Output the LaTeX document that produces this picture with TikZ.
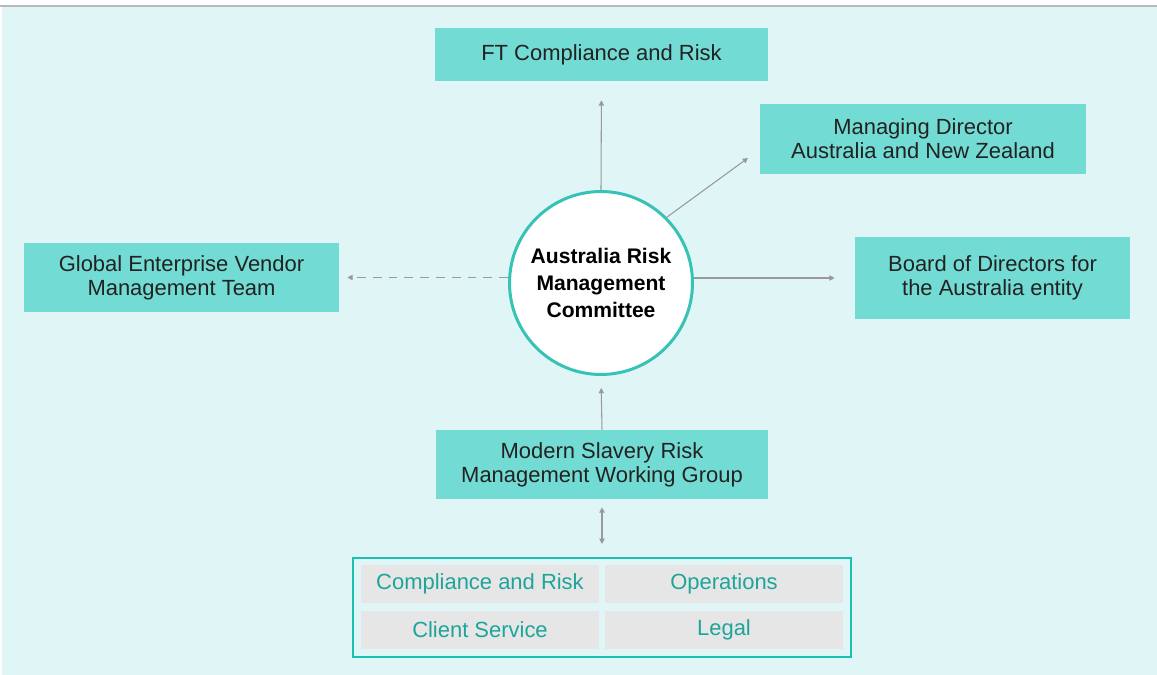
\documentclass[tikz,border=0pt]{standalone}
\usepackage{fontspec}
\setmainfont{Liberation Sans}
\usetikzlibrary{arrows.meta}
\definecolor{bgcyan}{HTML}{E0F5F6}
\definecolor{boxteal}{HTML}{72DCD4}
\definecolor{ringteal}{HTML}{36C2B4}
\definecolor{frameteal}{HTML}{1CC0B2}
\definecolor{cellgray}{HTML}{E6E6E6}
\definecolor{cellteal}{HTML}{1DA59B}
\definecolor{linkgray}{HTML}{999999}
\definecolor{txtdark}{HTML}{222222}
\begin{document}
\begin{tikzpicture}[
  x=0.02cm, y=-0.02cm,
  box/.style={fill=boxteal, text=txtdark, align=center, inner sep=0pt,
    font=\fontsize{12.5}{13.8}\selectfont},
  hub/.style={circle, draw=ringteal, line width=1.7pt, fill=white, minimum size=3.66cm,
    align=center, inner sep=0pt, text=black, font=\fontsize{12}{15.4}\selectfont\bfseries},
  cell/.style={fill=cellgray, text=cellteal, minimum width=4.76cm, minimum height=0.76cm,
    inner sep=0pt, font=\fontsize{12.5}{14}\selectfont},
  smalltip/.tip={Triangle[length=3pt,width=3pt]},
  link/.style={draw=linkgray, line width=0.6pt, -smalltip}
]
\useasboundingbox (0,0) rectangle (1157,675);
\fill[bgcyan] (2,7) rectangle (1157,675);
\draw[gray!55, line width=1.1pt] (0,6) -- (1157,6);

\node[box, minimum width=6.66cm, minimum height=1.06cm] (ft) at (601.5,54.5) {FT Compliance and Risk};
\node[box, minimum width=6.52cm, minimum height=1.40cm] (md) at (923,139) {Managing Director\\Australia and New Zealand};
\node[box, minimum width=5.50cm, minimum height=1.64cm] (board) at (992.5,278) {Board of Directors for\\the Australia entity};
\node[box, minimum width=6.30cm, minimum height=1.38cm] (gevm) at (181.5,277.5) {Global Enterprise Vendor\\Management Team};
\node[box, minimum width=6.64cm, minimum height=1.38cm] (msrm) at (602,464.5) {Modern Slavery Risk\\Management Working Group};
\node[hub] (arc) at (601,283) {Australia Risk\\Management\\Committee};

\node[draw=frameteal, line width=1.2pt, minimum width=9.96cm, minimum height=1.98cm] (cells) at (602,607.5) {};
\node[cell] (cr) at (480,584) {Compliance and Risk};
\node[cell] (ops) at (724,584) {Operations};
\node[cell] (cs) at (480,630) {Client Service};
\node[cell] (legal) at (724,630) {Legal};

\coordinate (mdtip) at (748,158);
\draw[link, shorten >=0.38cm] (arc.north) -- (ft.south);
\draw[link] (arc.45) -- (mdtip);
\draw[link, shorten >=0.4cm] (arc.east |- board.west) -- (board.west);
\draw[link, dash pattern=on 5pt off 4pt, shorten >=0.16cm] (arc.west |- gevm.east) -- (gevm.east);
\draw[link, shorten >=0.24cm] (msrm.north) -- (arc.south);
\draw[link, smalltip-smalltip, shorten <=0.16cm, shorten >=0.26cm] (msrm.south) -- (cells.north);
\end{tikzpicture}
\end{document}
